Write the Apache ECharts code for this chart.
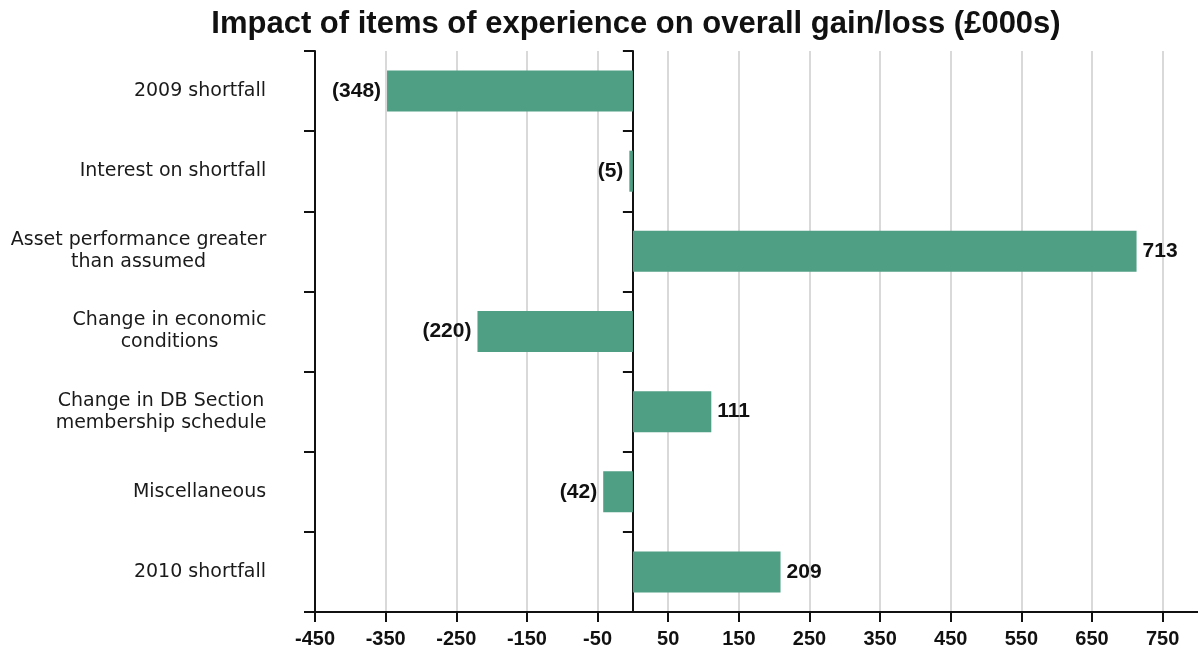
<!DOCTYPE html>
<html>
<head>
<meta charset="utf-8">
<script src="https://cdn.jsdelivr.net/npm/echarts@6/dist/echarts.min.js"></script>
<style>
html,body{margin:0;padding:0;background:#fff;}
#chart{width:1198px;height:654px;}
</style>
</head>
<body>
<div id="chart"></div>
<script>
const categories = [
  '2009 shortfall',
  'Interest on shortfall',
  'Asset performance greater\nthan assumed',
  'Change in economic\nconditions',
  'Change in DB Section\nmembership schedule',
  'Miscellaneous',
  '2010 shortfall'
];
const values = [-348, -5, 713, -220, 111, -42, 209];
const xMin = -450;
const xMax = 800;
const xStep = 100;
const xTicks = [-450, -350, -250, -150, -50, 50, 150, 250, 350, 450, 550, 650, 750];

const catFont = { family: 'DejaVu Sans', size: 19 };

const chart = echarts.init(document.getElementById('chart'));

// measure label blocks so multi-line labels are centred line by line
const ctx = document.createElement('canvas').getContext('2d');
ctx.font = catFont.size + 'px "' + catFont.family + '"';
const rich = {};
categories.forEach((c, i) => {
  const w = Math.max.apply(null, c.split('\n').map(l => ctx.measureText(l).width));
  rich['r' + i] = {
    width: Math.ceil(w) + 1, align: 'center',
    fontFamily: catFont.family, fontSize: catFont.size, lineHeight: 22, color: '#1a1a1a'
  };
});

const barData = values.map(v => ({
  value: v,
  label: { position: v < 0 ? 'left' : 'right' }
}));

chart.setOption({
  animation: false,
  backgroundColor: '#ffffff',
  title: {
    text: 'Impact of items of experience on overall gain/loss (£000s)',
    left: 631,
    textAlign: 'center',
    top: 4,
    textStyle: { fontFamily: 'Liberation Sans, Arial, sans-serif', fontSize: 31, fontWeight: 'bold', color: '#111' }
  },
  grid: { left: 315, right: 0, top: 51, bottom: 42, containLabel: false },
  xAxis: {
    type: 'value',
    min: xMin,
    max: xMax,
    interval: xStep,
    axisLine: { show: true, onZero: false, lineStyle: { color: '#111', width: 2 } },
    axisTick: { show: true, length: 10, customValues: xTicks, lineStyle: { color: '#111', width: 2 } },
    axisLabel: {
      margin: 17,
      customValues: xTicks,
      fontFamily: 'Liberation Sans, Arial, sans-serif',
      fontSize: 20, fontWeight: 'bold', color: '#111',
      formatter: v => (v >= xMax ? '' : String(v))
    },
    splitLine: { show: true, lineStyle: { color: '#cccccc', width: 1.5 } }
  },
  yAxis: [
    {
      type: 'category',
      data: categories,
      inverse: true,
      position: 'left',
      axisLine: { show: true, onZero: false, lineStyle: { color: '#111', width: 2 } },
      axisTick: { show: true, length: 11, lineStyle: { color: '#111', width: 2 } },
      axisLabel: {
        margin: 48,
        align: 'right',
        formatter: (val, idx) => val.split('\n').map(l => '{r' + idx + '|' + l + '}').join('\n'),
        rich: rich
      },
      splitLine: { show: false }
    },
    {
      type: 'category',
      data: categories,
      inverse: true,
      position: 'left',
      axisLine: { show: true, onZero: true, lineStyle: { color: '#111', width: 2 } },
      axisTick: { show: true, length: 10, lineStyle: { color: '#111', width: 2 } },
      axisLabel: { show: false },
      splitLine: { show: false }
    }
  ],
  series: [{
    type: 'bar',
    yAxisIndex: 0,
    data: barData,
    barWidth: 41,
    itemStyle: { color: '#4f9f84' },
    label: {
      show: true,
      distance: 6,
      fontFamily: 'Liberation Sans, Arial, sans-serif',
      fontSize: 21, fontWeight: 'bold', color: '#111',
      formatter: p => (p.value < 0 ? '(' + Math.abs(p.value) + ')' : String(p.value))
    }
  }]
});
</script>
</body>
</html>
